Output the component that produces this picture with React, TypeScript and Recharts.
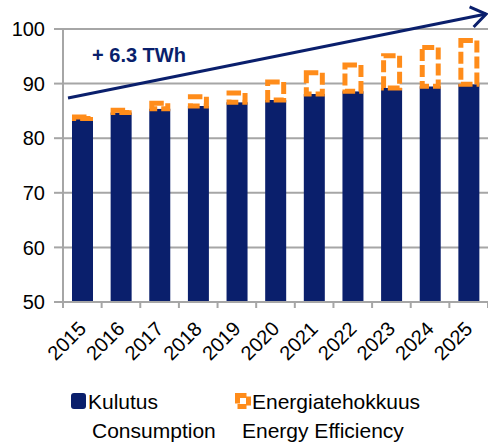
import React from 'react';
import {
  BarChart,
  Bar,
  XAxis,
  YAxis,
  CartesianGrid,
  Legend,
  ReferenceLine,
} from 'recharts';

const years = ['2015', '2016', '2017', '2018', '2019', '2020', '2021', '2022', '2023', '2024', '2025'];
const consumption = [83.6, 84.7, 85.4, 85.9, 86.6, 87.0, 88.1, 88.6, 89.2, 89.5, 89.9];
const efficiency = [0.3, 0.4, 1.0, 1.7, 1.7, 3.3, 3.9, 4.8, 5.9, 7.1, 8.0];
const yTicks = [50, 60, 70, 80, 90, 100];
const seriesNames = ['Kulutus', 'Energiatehokkuus'];
const seriesNamesEn = ['Consumption', 'Energy Efficiency'];
const trendLabel = '+ 6.3 TWh';
// trend arrow: level at the first and last year, then stretched a little past both bars
const trendStart = { x: '2015', y: 87.9 };
const trendEnd = { x: '2025', y: 102.1 };
const trendStretch = [0.037, 0.045];

const NAVY = '#0a1f6c';
const ORANGE = '#ff8c1a';
const GRID = '#a6a6a6';
const FONT = '"Liberation Sans", Arial, sans-serif';

const data = years.map((year, i) => ({
  year,
  kulutus: consumption[i],
  tehokkuus: efficiency[i],
}));

// dashed outline drawn inside the bar edges
const EffShape = (p: any) => {
  const { x, y, width, height } = p;
  if (!height || height <= 0) return null;
  const sw = 5;
  return (
    <rect
      x={x + sw / 2}
      y={y}
      width={width - sw}
      height={height}
      fill="#ffffff"
      stroke={ORANGE}
      strokeWidth={sw}
      strokeDasharray="12 4"
    />
  );
};

const YearTick = (props: any) => {
  const { x, y, payload, index, visibleTicksCount } = props;
  const half = payload.offset ?? 0;
  const tx = x + 5;
  const ty = y + 28;
  return (
    <g>
      <line x1={x - half} x2={x - half} y1={y} y2={y + 6} stroke={GRID} strokeWidth={2} />
      {index === visibleTicksCount - 1 && (
        <line x1={x + half} x2={x + half} y1={y} y2={y + 6} stroke={GRID} strokeWidth={2} />
      )}
      <text
        x={tx}
        y={ty}
        transform={`rotate(-45 ${tx} ${ty})`}
        textAnchor="end"
        fill="#000"
        fontSize={20}
        fontFamily={FONT}
      >
        {payload.value}
      </text>
    </g>
  );
};

const TrendArrow = (p: any) => {
  const dx = p.x2 - p.x1;
  const dy = p.y2 - p.y1;
  const x1 = p.x1 - dx * trendStretch[0];
  const y1 = p.y1 - dy * trendStretch[0];
  const x2 = p.x2 + dx * trendStretch[1];
  const y2 = p.y2 + dy * trendStretch[1];
  const len = Math.sqrt(dx * dx + dy * dy);
  const ux = dx / len;
  const uy = dy / len;
  const wing = 18;
  const a = (35 * Math.PI) / 180;
  const w1x = x2 - wing * (ux * Math.cos(a) - uy * Math.sin(a));
  const w1y = y2 - wing * (ux * Math.sin(a) + uy * Math.cos(a));
  const w2x = x2 - wing * (ux * Math.cos(-a) - uy * Math.sin(-a));
  const w2y = y2 - wing * (ux * Math.sin(-a) + uy * Math.cos(-a));
  return (
    <g>
      <line x1={x1} y1={y1} x2={x2} y2={y2} stroke={NAVY} strokeWidth={3} />
      <polyline
        points={`${w1x},${w1y} ${x2},${y2} ${w2x},${w2y}`}
        fill="none"
        stroke={NAVY}
        strokeWidth={3}
      />
      <text x={x1 + 24} y={y1 - 35.7} fill={NAVY} fontSize={20} fontWeight="bold" fontFamily={FONT}>
        {trendLabel}
      </text>
    </g>
  );
};

const LegendContent = () => (
  <svg width={488} height={64} style={{ display: 'block' }}>
    <rect x={71} y={13} width={15} height={16} rx={3} fill={NAVY} />
    <text x={88} y={29} fontSize={21} fontFamily={FONT} fill="#000">{seriesNames[0]}</text>
    <text x={92} y={58} fontSize={21} fontFamily={FONT} fill="#000">{seriesNamesEn[0]}</text>
    <rect x={237.5} y={15.5} width={11} height={11} fill="#fff" stroke={ORANGE} strokeWidth={5} strokeDasharray="9 3" />
    <text x={252} y={29} fontSize={21} fontFamily={FONT} fill="#000">{seriesNames[1]}</text>
    <text x={242} y={58} fontSize={21} fontFamily={FONT} fill="#000">{seriesNamesEn[1]}</text>
  </svg>
);

const App: React.FC = () => {
  return (
    <div style={{ position: 'absolute', left: 0, top: 0, width: 488, height: 444, background: '#fff' }}>
      <BarChart
        width={488}
        height={444}
        data={data}
        margin={{ top: 29, right: 0, bottom: 0, left: 0 }}
        barSize={21}
      >
        <CartesianGrid horizontal vertical={false} stroke={GRID} strokeWidth={2} />
        <XAxis
          dataKey="year"
          height={142}
          tickLine={false}
          tickSize={0}
          tickMargin={0}
          axisLine={{ stroke: GRID, strokeWidth: 2 }}
          tick={<YearTick />}
          interval={0}
        />
        <YAxis
          width={63}
          domain={[50, 100]}
          ticks={yTicks}
          allowDataOverflow
          tickSize={9}
          tickMargin={9}
          axisLine={{ stroke: GRID, strokeWidth: 2 }}
          tickLine={{ stroke: GRID, strokeWidth: 2 }}
          tick={{ fill: '#000', fontSize: 20, fontFamily: FONT }}
        />
        <Legend
          layout="horizontal"
          verticalAlign="middle"
          align="center"
          wrapperStyle={{ top: 380, left: 0, width: 488, height: 64 }}
          content={<LegendContent />}
        />
        <Bar dataKey="kulutus" name={seriesNames[0]} stackId="a" fill={NAVY} isAnimationActive={false} />
        <Bar
          dataKey="tehokkuus"
          name={seriesNames[1]}
          stackId="a"
          fill="#fff"
          shape={<EffShape />}
          isAnimationActive={false}
        />
        <ReferenceLine
          segment={[trendStart, trendEnd]}
          ifOverflow="visible"
          shape={<TrendArrow />}
        />
      </BarChart>
    </div>
  );
};

export default App;
